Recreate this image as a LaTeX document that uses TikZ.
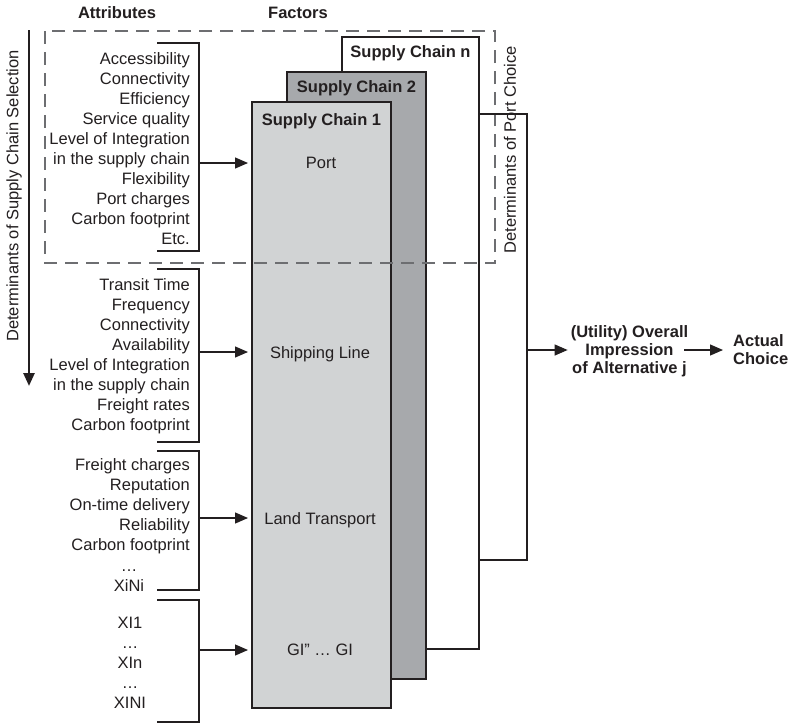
\documentclass[tikz,border=0pt]{standalone}
\usepackage{fontspec}
\setmainfont{Liberation Sans}
\usetikzlibrary{arrows.meta,calc}
\definecolor{ink}{HTML}{231F20}
\definecolor{scone}{HTML}{D1D3D4}
\definecolor{sctwo}{HTML}{A7A9AC}
\definecolor{dashgray}{HTML}{6D6E71}

\begin{document}
\begin{tikzpicture}[x=1pt,y=-1pt,
  txt/.style={font=\fontsize{16.5}{20}\selectfont, text=ink, inner sep=0pt},
  bold/.style={font=\fontsize{16.5}{18}\selectfont\bfseries, text=ink, inner sep=0pt},
  list/.style={txt, align=right, anchor=east},
  clist/.style={txt, align=center},
  chainbox/.style={draw=ink, line width=2.4pt, inner sep=0pt, outer sep=0pt},
  brk/.style={draw=ink, line width=1.2pt},
  arr/.style={draw=ink, line width=1.2pt, -{Triangle[length=13pt,width=11pt]}},
  conn/.style={draw=ink, line width=1.4pt},
  zone/.style={draw=dashgray, line width=1.2pt, dash pattern=on 13pt off 8pt}
]
\useasboundingbox (0,0) rectangle (792,723);
\fill[white] (0,0) rectangle (792,723);

% column headers
\node[bold] (hattr) at (117,13) {Attributes};
\node[bold] (hfact) at (298,13) {Factors};

% overall direction of supply chain selection
\coordinate (dtop) at (29,30);
\coordinate (dbot) at (29,386);
\draw[ink, line width=2.6pt, -{Triangle[length=13pt,width=11pt]}] (dtop) -- (dbot);
\node[txt, rotate=90] (dscs) at (14,196) {Determinants of Supply Chain Selection};

% stacked supply chain alternatives (back to front)
\node[chainbox, fill=white, minimum width=137pt, minimum height=612pt] (scn) at (410.5,343) {};
\node[chainbox, fill=sctwo, minimum width=139pt, minimum height=607pt] (sc2) at (356.5,375.5) {};
\node[chainbox, fill=scone, minimum width=139pt, minimum height=606pt] (sc1) at (321.5,405) {};
\node[bold] (scnt) at (410.5,53) {Supply Chain n};
\node[bold] (sc2t) at (356.5,88) {Supply Chain 2};
\node[bold] (sc1t) at (321.5,121) {Supply Chain 1};

% factors inside the front chain
\node[txt] (fport) at (321,163) {Port};
\node[txt] (fship) at (320,354) {Shipping Line};
\node[txt] (fland) at (320,520.5) {Land Transport};
\node[txt] (fgi)   at (320,650) {GI” … GI};

% attribute lists with their brackets
\node[list] (aport) at (190,150) {\strut Accessibility\\Connectivity\\Efficiency\\Service quality\\Level of Integration\\in the supply chain\\Flexibility\\Port charges\\Carbon footprint\\Etc.\strut};
\draw[brk] (157,43) -| (199,251) -- (157,251);
\coordinate (bport) at (199,163);

\node[list] (aship) at (190,356) {\strut Transit Time\\Frequency\\Connectivity\\Availability\\Level of Integration\\in the supply chain\\Freight rates\\Carbon footprint\strut};
\draw[brk] (157,269) -| (199,442) -- (157,442);
\coordinate (bship) at (199,352);

\node[list] (aland) at (190,506) {\strut Freight charges\\Reputation\\On-time delivery\\Reliability\\Carbon footprint\strut};
\node[clist] (alandx) at (129,577) {\strut …\\XiNi\strut};
\draw[brk] (157,451) -| (199,590) -- (157,590);
\coordinate (bland) at (199,518);

\node[clist] (agi) at (130,664) {\strut XI1\\…\\XIn\\…\\XINI\strut};
\draw[brk] (157,600) -| (199,722) -- (157,722);
\coordinate (bgi) at (199,650);

\foreach \b in {bport,bship,bland,bgi}
  \draw[arr, shorten >=4pt] (\b) -- (\b -| sc1.west);

% port choice zone
\draw[zone] (45,31) rectangle (495,263);
\node[txt, rotate=90] (dpc) at (510,150) {Determinants of Port Choice};

% aggregation into overall impression and choice
\coordinate (rtop) at (527,114);
\coordinate (rbot) at (527,560);
\coordinate (rmid) at (527,350);
\draw[conn] (rtop -| scn.east) -- (rtop) -- (rbot) -- (rbot -| scn.east);

\node[bold, align=center] (util) at (629.5,352.3) {\strut (Utility) Overall\\Impression\\of Alternative j\strut};
\node[bold, align=left, anchor=west] (act) at (733,352.3) {\strut Actual\\Choice\strut};

\draw[arr] (rmid) -- ([xshift=-3pt]util.west |- rmid);
\draw[arr] ([xshift=-4pt]util.east |- rmid) -- ([xshift=-10pt]act.west |- rmid);
\end{tikzpicture}
\end{document}
